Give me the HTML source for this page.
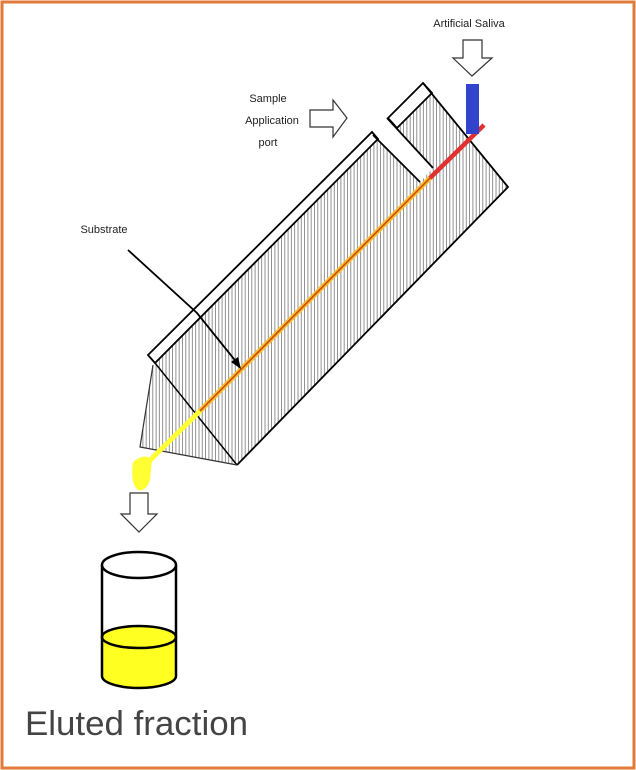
<!DOCTYPE html>
<html><head><style>
html,body{margin:0;padding:0;background:#fff;}
svg{display:block;}
</style></head><body>
<svg width="636" height="770" viewBox="0 0 636 770" xmlns="http://www.w3.org/2000/svg">
<defs>
<pattern id="h" width="3.3" height="10" patternUnits="userSpaceOnUse">
<line x1="1" y1="0" x2="1" y2="10" stroke="#777" stroke-width="0.8"/>
</pattern>
</defs>
<rect x="2" y="2" width="632" height="766" fill="#fff" stroke="#E07B39" stroke-width="3"/>

<!-- body hatched -->
<polygon points="155,363 378,139 420,182 433,168 397,128 432,93 508,187 237,465 140,447 153,365" fill="url(#h)" stroke="none"/>
<!-- lid strip -->
<polygon points="148,355 372,132 378,139 155,363" fill="#fff" stroke="#000" stroke-width="1.8"/>
<!-- right block lid -->
<polygon points="388,118 423,83 432,93 397,128" fill="#fff" stroke="#000" stroke-width="1.8"/>
<!-- outlines -->
<polyline points="423,83 508,187 237,465" fill="none" stroke="#000" stroke-width="1.8"/>
<line x1="155" y1="363" x2="237" y2="465" stroke="#000" stroke-width="1.5"/>
<polyline points="153,365 140,447 237,465" fill="none" stroke="#333" stroke-width="1.2"/>
<line x1="387" y1="118" x2="433" y2="168" stroke="#000" stroke-width="1.8"/>
<line x1="373" y1="135" x2="420" y2="182" stroke="#000" stroke-width="1.8"/>
<!-- substrate line -->
<line x1="138" y1="472" x2="200" y2="411" stroke="#ffff33" stroke-width="5"/>
<line x1="200" y1="411" x2="432" y2="176" stroke="#f5c030" stroke-width="5"/>
<line x1="200" y1="411" x2="432" y2="176" stroke="#d04a10" stroke-width="1.6"/>
<line x1="430" y1="178" x2="484" y2="125" stroke="#e03030" stroke-width="4.5"/>
<!-- drip -->
<path d="M133,462 Q145,452 152,460 L150,480 Q146,492 138,490 Q130,484 133,462Z" fill="#ffff33"/>
<!-- blue bar -->
<rect x="466" y="84" width="13" height="50" fill="#3344cc"/>
<!-- substrate arrow -->
<polyline points="128,250 197,313 238,364" fill="none" stroke="#000" stroke-width="1.8"/>
<polygon points="241,369 231,362 238,357" fill="#000"/>
<!-- hollow arrows -->
<polygon points="310,110 333,110 333,100 347,118 333,137 333,127 310,127" fill="#fff" stroke="#333" stroke-width="1.2"/>
<polygon points="463,40 482,40 482,58 492,58 472,76 453,58 463,58" fill="#fff" stroke="#333" stroke-width="1.2"/>
<polygon points="130,493 148,493 148,514 157,514 139,532 121,514 130,514" fill="#fff" stroke="#333" stroke-width="1.2"/>
<!-- labels -->
<g font-family="Liberation Sans, sans-serif" font-size="11" fill="#222" text-anchor="middle">
<text x="469" y="27">Artificial Saliva</text>
<text x="268" y="102">Sample</text>
<text x="272" y="124">Application</text>
<text x="268" y="146">port</text>
<text x="104" y="233">Substrate</text>
</g>
<!-- beaker -->
<path d="M102,637 L102,676 A37,12 0 0 0 176,676 L176,637 Z" fill="#ffff22"/>
<ellipse cx="139" cy="637" rx="37" ry="11" fill="#ffff22" stroke="#000" stroke-width="2.5"/>
<line x1="102" y1="565" x2="102" y2="676" stroke="#000" stroke-width="2.5"/>
<line x1="176" y1="565" x2="176" y2="676" stroke="#000" stroke-width="2.5"/>
<path d="M102,676 A37,12 0 0 0 176,676" fill="none" stroke="#000" stroke-width="2.5"/>
<ellipse cx="139" cy="565" rx="37" ry="13" fill="#fff" stroke="#000" stroke-width="2.5"/>
<text x="25" y="735" font-family="Liberation Sans, sans-serif" font-size="34" fill="#444" textLength="223" lengthAdjust="spacingAndGlyphs">Eluted fraction</text>
</svg>
</body></html>
